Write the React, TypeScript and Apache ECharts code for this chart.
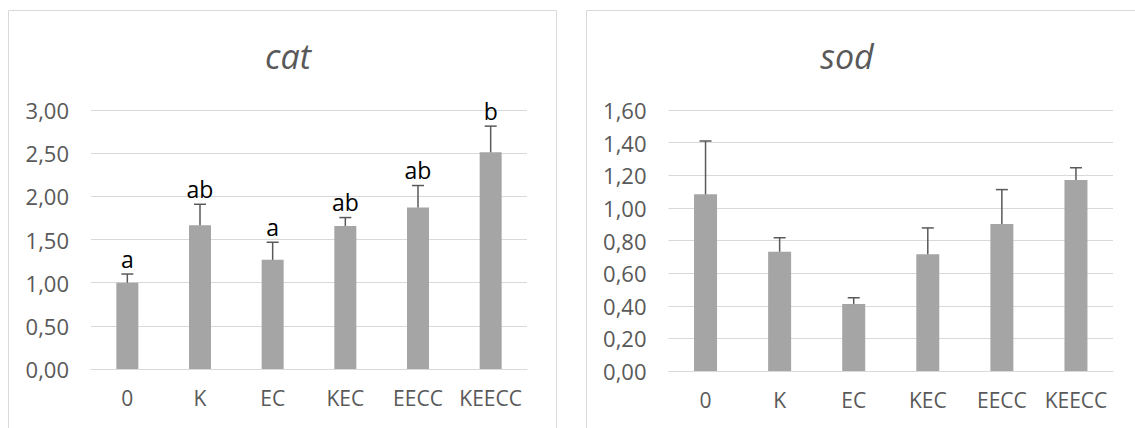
import React, { useEffect, useRef } from "react";
import * as echarts from "echarts";

const categories = ["0", "K", "EC", "KEC", "EECC", "KEECC"];
const catMeans = [1.0, 1.665, 1.264, 1.657, 1.87, 2.51];
const catErrors = [0.1, 0.243, 0.204, 0.097, 0.255, 0.303];
const catLetters = ["a", "ab", "a", "ab", "ab", "b"];
const sodMeans = [1.083, 0.731, 0.41, 0.715, 0.901, 1.171];
const sodErrors = [0.327, 0.086, 0.039, 0.162, 0.211, 0.075];
const catAxis = { max: 3, interval: 0.5 };
const sodAxis = { max: 1.6, interval: 0.2 };
const titles = ["cat", "sod"];

const FONT = "'Open Sans', sans-serif";
const GREY_TEXT = "#595959";

function errorSeries(gridIdx: number, means: number[], errs: number[], letters: string[] | null) {
  return {
    type: "custom",
    xAxisIndex: gridIdx,
    yAxisIndex: gridIdx,
    z: 5,
    data: means.map((m, i) => [i, m, m + errs[i]]),
    renderItem: (params: any, api: any) => {
      const i = api.value(0);
      const p0 = api.coord([i, api.value(1)]);
      const p1 = api.coord([i, api.value(2)]);
      const children: any[] = [
        {
          type: "line",
          shape: { x1: p0[0], y1: p0[1], x2: p1[0], y2: p1[1] },
          style: { stroke: GREY_TEXT, lineWidth: 1.5 },
        },
        {
          type: "line",
          shape: { x1: p1[0] - 6, y1: p1[1], x2: p1[0] + 6, y2: p1[1] },
          style: { stroke: GREY_TEXT, lineWidth: 1.5 },
        },
      ];
      if (letters) {
        children.push({
          type: "text",
          x: p1[0],
          y: p1[1] - 4,
          style: {
            text: letters[params.dataIndex],
            fill: "#000000",
            font: `23px ${FONT}`,
            textAlign: "center",
            textVerticalAlign: "bottom",
          },
        });
      }
      return { type: "group", children };
    },
  };
}

export default function App() {
  const ref = useRef<HTMLDivElement>(null);
  useEffect(() => {
    if (!ref.current) return;
    const chart = echarts.init(ref.current, null, { renderer: "svg" });
    const fmt = (v: number) => v.toFixed(2).replace(".", ",");
    const yAxisBase = (cfg: { max: number; interval: number }, gridIndex: number) => ({
      type: "value",
      gridIndex,
      min: 0,
      max: cfg.max,
      interval: cfg.interval,
      axisLine: { show: false },
      axisTick: { show: false },
      splitLine: { lineStyle: { color: "#d9d9d9", width: 1 } },
      axisLabel: {
        formatter: fmt,
        color: GREY_TEXT,
        fontFamily: FONT,
        fontSize: 22,
        margin: 22,
      },
    });
    const xAxisBase = (gridIndex: number) => ({
      type: "category",
      gridIndex,
      data: categories,
      axisLine: { show: true, lineStyle: { color: "#d9d9d9", width: 1 } },
      axisTick: { show: false },
      axisLabel: {
        color: GREY_TEXT,
        fontFamily: FONT,
        fontSize: 21,
        margin: 18,
        interval: 0,
      },
    });
    const titleStyle = { fontFamily: FONT, fontStyle: "italic", fontWeight: "normal", fontSize: 34, color: GREY_TEXT };
    chart.setOption({
      animation: false,
      backgroundColor: "#ffffff",
      title: [
        { text: titles[0], left: 283, top: 34, textAlign: "center", textStyle: titleStyle },
        { text: titles[1], left: 842, top: 34, textAlign: "center", textStyle: titleStyle },
      ],
      graphic: [
        {
          type: "rect",
          shape: { x: 8.5, y: 10.5, width: 548, height: 440 },
          style: { fill: "none", stroke: "#d9d9d9", lineWidth: 1 },
          silent: true,
        },
        {
          type: "rect",
          shape: { x: 586.5, y: 10.5, width: 600, height: 440 },
          style: { fill: "none", stroke: "#d9d9d9", lineWidth: 1 },
          silent: true,
        },
      ],
      grid: [
        { left: 91, right: 1135 - 527, top: 110, bottom: 428 - 369 },
        { left: 668.5, right: 1135 - 1113, top: 110, bottom: 428 - 371 },
      ],
      xAxis: [xAxisBase(0), xAxisBase(1)],
      yAxis: [yAxisBase(catAxis, 0), yAxisBase(sodAxis, 1)],
      series: [
        {
          type: "bar",
          xAxisIndex: 0,
          yAxisIndex: 0,
          data: catMeans,
          barWidth: 22,
          itemStyle: { color: "#a5a5a5" },
        },
        {
          type: "bar",
          xAxisIndex: 1,
          yAxisIndex: 1,
          data: sodMeans,
          barWidth: 23,
          itemStyle: { color: "#a5a5a5" },
        },
        errorSeries(0, catMeans, catErrors, catLetters),
        errorSeries(1, sodMeans, sodErrors, null),
      ],
    });
    return () => chart.dispose();
  }, []);
  return (
    <div
      ref={ref}
      style={{ position: "fixed", left: 0, top: 0, width: 1135, height: 428, background: "#fff" }}
    />
  );
}
